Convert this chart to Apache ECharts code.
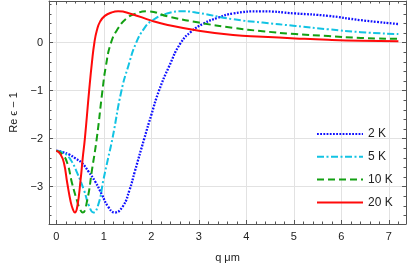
<!DOCTYPE html>
<html><head><meta charset="utf-8">
<script src="https://cdn.jsdelivr.net/npm/echarts@6/dist/echarts.min.js"></script>
<style>html,body{margin:0;padding:0;background:#fff}#c{width:407px;height:269px}</style>
</head><body><div id="c"></div>
<script>
// Data
var seriesNames = ['2 K', '5 K', '10 K', '20 K'];

var q2K  = [0, 0.13, 0.27, 0.40, 0.54, 0.68, 0.82, 0.96, 1.09, 1.23, 1.40, 1.54, 1.65, 1.85, 2.0, 2.16, 2.37, 2.62, 2.85, 3.1, 3.4, 3.72, 4.3, 5.03, 5.72, 6.41, 7.2];
var re2K = [-2.25, -2.28, -2.33, -2.41, -2.51, -2.69, -2.90, -3.17, -3.42, -3.54, -3.41, -3.07, -2.69, -2.0, -1.5, -1.0, -0.5, 0.0, 0.24, 0.40, 0.52, 0.61, 0.655, 0.61, 0.56, 0.47, 0.39];

var q5K  = [0, 0.16, 0.30, 0.44, 0.58, 0.68, 0.78, 0.89, 0.99, 1.08, 1.18, 1.37, 1.51, 1.68, 1.85, 2.0, 2.33, 2.68, 3.0, 3.72, 4.34, 5.03, 5.72, 6.41, 7.2];
var re5K = [-2.25, -2.30, -2.44, -2.72, -3.07, -3.38, -3.54, -3.35, -2.86, -2.45, -2.0, -1.0, -0.5, 0.0, 0.3, 0.45, 0.61, 0.655, 0.62, 0.49, 0.42, 0.35, 0.28, 0.22, 0.18];

var q10K  = [0, 0.13, 0.23, 0.33, 0.44, 0.50, 0.555, 0.65, 0.75, 0.85, 0.97, 1.04, 1.15, 1.30, 1.47, 1.65, 1.92, 2.34, 3.0, 3.72, 4.34, 5.03, 5.72, 6.41, 7.2];
var re10K = [-2.25, -2.33, -2.51, -2.93, -3.31, -3.48, -3.54, -3.28, -2.65, -2.0, -1.0, -0.5, 0.0, 0.3, 0.5, 0.6, 0.655, 0.55, 0.42, 0.31, 0.24, 0.18, 0.14, 0.10, 0.08];

var q20K  = [0, 0.09, 0.16, 0.23, 0.30, 0.35, 0.39, 0.44, 0.51, 0.555, 0.6, 0.69, 0.75, 0.80, 0.853, 0.92, 1.02, 1.16, 1.30, 1.58, 2.0, 2.3, 3.0, 3.72, 4.34, 5.03, 5.72, 6.41, 7.2];
var re20K = [-2.25, -2.33, -2.51, -2.93, -3.31, -3.48, -3.54, -3.42, -2.86, -2.40, -2.0, -1.0, -0.4, 0.0, 0.26, 0.44, 0.56, 0.63, 0.655, 0.60, 0.46, 0.38, 0.25, 0.16, 0.125, 0.09, 0.06, 0.04, 0.03];

function pairs(xs, ys) { return xs.map(function (x, i) { return [x, ys[i]]; }); }

var FONT = 'Liberation Sans';
var frameColor = '#555';
var fmt = function (v) { return v < 0 ? '\u2212' + Math.abs(v) : String(v); };

function xAx(pos, main) {
  return {
    type: 'value', position: pos, min: -0.155, max: 7.36, splitNumber: 7,
    axisLine: { show: true, onZero: false, lineStyle: { color: frameColor, width: 1 } },
    axisTick: { show: true, inside: true, length: 4, lineStyle: { color: frameColor } },
    minorTick: { show: true, splitNumber: 5, length: 2.5, lineStyle: { color: frameColor } },
    splitLine: { show: main, lineStyle: { color: '#e2e2e2', width: 1 } },
    axisLabel: { show: main, showMinLabel: false, showMaxLabel: false, margin: 7, fontSize: 11, color: '#222', fontFamily: FONT, formatter: fmt },
    name: main ? 'q \u03bcm' : '', nameLocation: 'middle', nameGap: 28,
    nameTextStyle: { fontSize: 11, color: '#222', fontFamily: FONT }
  };
}
function yAx(pos, main) {
  return {
    type: 'value', position: pos, min: -3.78, max: 0.87, splitNumber: 5,
    axisLine: { show: true, onZero: false, lineStyle: { color: frameColor, width: 1 } },
    axisTick: { show: true, inside: true, length: 4, lineStyle: { color: frameColor } },
    minorTick: { show: true, splitNumber: 5, length: 2.5, lineStyle: { color: frameColor } },
    splitLine: { show: main, lineStyle: { color: '#e2e2e2', width: 1 } },
    axisLabel: { show: main, showMinLabel: false, showMaxLabel: false, margin: 6, fontSize: 11, color: '#222', fontFamily: FONT, formatter: fmt },
    name: main ? 'Re \u03f5 \u2212 1' : '', nameLocation: 'middle', nameGap: 30, nameRotate: 90,
    nameTextStyle: { fontSize: 11, color: '#222', fontFamily: FONT }
  };
}

function ser(name, xs, ys, color, dash, width) {
  return {
    name: name, type: 'line', xAxisIndex: 0, yAxisIndex: 0,
    data: pairs(xs, ys), smooth: 0.5, symbol: 'none', showSymbol: false,
    legendIcon: 'none',
    lineStyle: { color: color, width: width, type: dash },
    itemStyle: { color: color },
    animation: false
  };
}

var chart = echarts.init(document.getElementById('c'), null, { renderer: 'canvas' });
chart.setOption({
  animation: false,
  grid: { left: 43, right: 1, top: 1, bottom: 45, containLabel: false },
  xAxis: [xAx('bottom', true), xAx('top', false)],
  yAxis: [yAx('left', true), yAx('right', false)],
  legend: {
    orient: 'vertical', left: 316, top: 128, padding: 0, itemWidth: 46, itemHeight: 14, itemGap: 10.8,
    itemStyle: { opacity: 0 },
    textStyle: { fontSize: 12, color: '#222', fontFamily: FONT },
    data: seriesNames
  },
  series: [
    ser(seriesNames[0], q2K, re2K, '#1010ff', [1.8, 1.4], 2.3),
    ser(seriesNames[1], q5K, re5K, '#12c3e3', [7, 2.5, 2, 2.5], 2),
    ser(seriesNames[2], q10K, re10K, '#13a013', [7, 4], 2),
    ser(seriesNames[3], q20K, re20K, '#ff0a0a', 'solid', 2)
  ]
});
</script></body></html>
